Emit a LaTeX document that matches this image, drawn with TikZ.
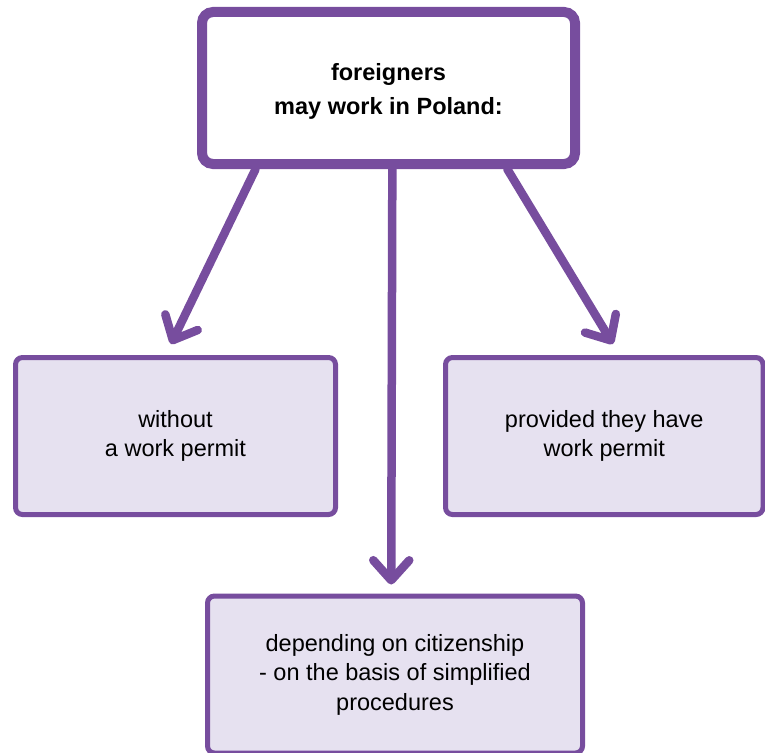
\documentclass[tikz,border=0pt]{standalone}
\usepackage{fontspec}
\setmainfont{Liberation Sans}
\usetikzlibrary{arrows.meta,calc}
\definecolor{violetline}{RGB}{119,77,158}
\definecolor{lavenderfill}{RGB}{230,225,240}
\tikzset{
  headbox/.style={draw=violetline, line width=10pt, fill=white, rounded corners=11pt,
    align=center, inner sep=0pt, font=\bfseries\fontsize{23.5}{34}\selectfont},
  optionbox/.style={draw=violetline, line width=5pt, fill=lavenderfill, rounded corners=7pt,
    align=center, inner sep=0pt, font=\fontsize{23.5}{29.5}\selectfont},
  link/.style={draw=violetline, line width=8.5pt, line cap=round,
    -{Straight Barb[length=20pt,width=36pt,line cap=round,line join=round]}}
}
\begin{document}
\begin{tikzpicture}[x=1pt,y=-1pt]
  \useasboundingbox (0,0) rectangle (765,752);
  \clip (0,0) rectangle (765,752);
  % boxes
  \node[headbox, minimum width=373pt, minimum height=152pt] (top) at (388.5,88)
    {\rule{0pt}{23pt}foreigners\\may work in Poland:};
  \node[optionbox, minimum width=320pt, minimum height=157pt] (nopermit) at (175.5,436)
    {without\\a work permit};
  \node[optionbox, minimum width=317.5pt, minimum height=157pt] (permit) at (604.25,436)
    {provided they have\\work permit};
  \node[optionbox, minimum width=375pt, minimum height=157pt] (simple) at (395,674.5)
    {depending on citizenship\\- on the basis of simplified\\procedures};
  % start and end points of the connectors
  \coordinate (s1) at ($(top.south west)!0.153!(top.south east)$);
  \coordinate (s2) at ($(top.south west)!0.51!(top.south east)$);
  \coordinate (s3) at ($(top.south west)!0.81!(top.south east)$);
  \coordinate (e1) at ($(nopermit.north west)!0.486!(nopermit.north east)+(0,-11)$);
  \coordinate (e2) at ($(simple.north west)!0.49!(simple.north east)+(0,-9)$);
  \coordinate (e3) at ($(permit.north west)!0.527!(permit.north east)+(0,-11)$);
  % connectors
  \draw[link] (s1) -- (e1);
  \draw[link] (s2) -- (e2);
  \draw[link] (s3) -- (e3);
\end{tikzpicture}
\end{document}
